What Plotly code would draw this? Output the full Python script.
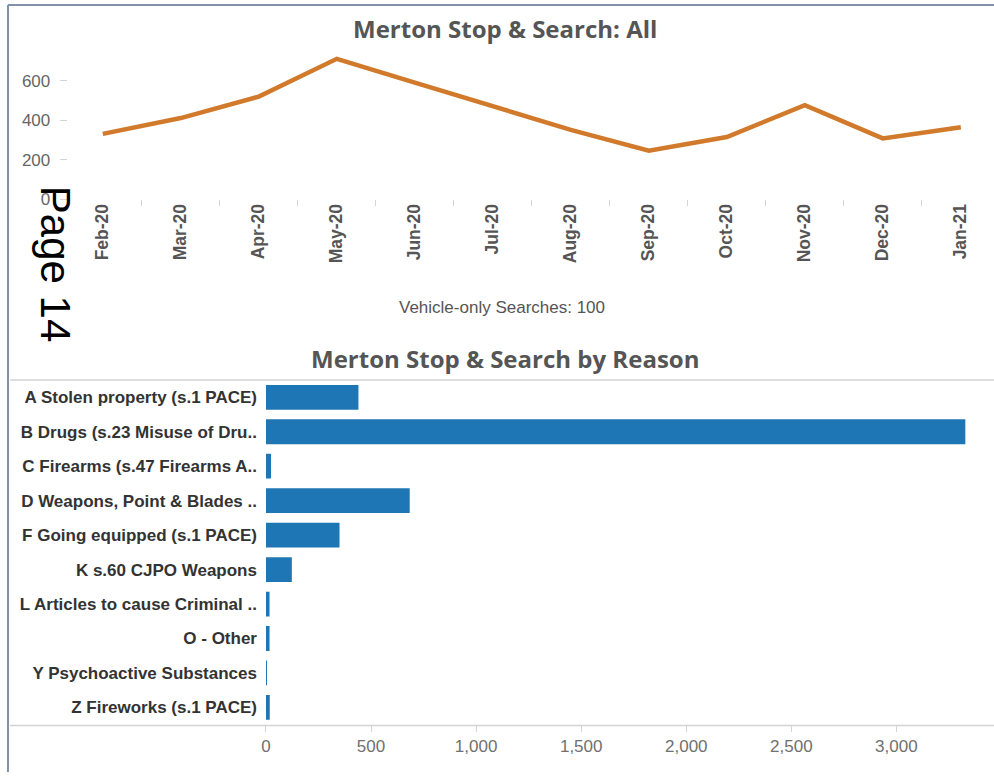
import plotly.graph_objects as go

# ---- data ----
months = ["Feb-20", "Mar-20", "Apr-20", "May-20", "Jun-20", "Jul-20",
          "Aug-20", "Sep-20", "Oct-20", "Nov-20", "Dec-20", "Jan-21"]
all_searches = [332, 412, 521, 712, 592, 470, 352, 247, 316, 477, 309, 366]

reasons = ["A Stolen property (s.1 PACE)", "B Drugs (s.23 Misuse of Dru..",
           "C Firearms (s.47 Firearms A..", "D Weapons, Point & Blades ..",
           "F Going equipped (s.1 PACE)", "K s.60 CJPO Weapons",
           "L Articles to cause Criminal ..", "O - Other",
           "Y Psychoactive Substances", "Z Fireworks (s.1 PACE)"]
reason_counts = [440, 3328, 24, 684, 350, 123, 17, 17, 4, 18]

y_ticks = [0, 200, 400, 600]
x_ticks = [0, 500, 1000, 1500, 2000, 2500, 3000]

W, H = 994, 782
def px(x): return x / W
def py(y): return 1 - y / H

ORANGE = "#d27a2b"
BLUE = "#1f76b4"
FONT = "Liberation Sans"

fig = go.Figure()
fig.add_trace(go.Scatter(x=months, y=all_searches, mode="lines",
                         line=dict(color=ORANGE, width=4.5),
                         xaxis="x", yaxis="y", hoverinfo="x+y"))
fig.add_trace(go.Bar(x=reason_counts, y=reasons, orientation="h",
                     marker=dict(color=BLUE, line=dict(width=0)),
                     xaxis="x2", yaxis="y2"))

fig.update_layout(
    width=W, height=H, margin=dict(l=0, r=0, t=0, b=0),
    paper_bgcolor="white", plot_bgcolor="white", showlegend=False,
    bargap=0.28,
    xaxis=dict(domain=[px(63), px(992)], type="category",
               range=[-0.45, 11.4], tickson="boundaries",
               ticks="outside", ticklen=6, tickcolor="#d5d5d5",
               tickangle=-90, showgrid=False, showline=False, zeroline=False,
               tickfont=dict(family=FONT, size=17.5, color="#555555", weight="bold"),
               anchor="y"),
    yaxis=dict(domain=[py(202), py(45)], range=[0, 785],
               tickvals=y_ticks, ticks="outside", ticklen=7,
               tickcolor="#d5d5d5", showgrid=False, zeroline=False,
               showline=False, ticklabelstandoff=6,
               tickfont=dict(family=FONT, size=17, color="#666666"),
               anchor="x"),
    xaxis2=dict(domain=[px(262.3), 1.0], range=[0, (994 - 262.3) / 105.6 * 500],
                tickvals=x_ticks, tickformat=",", ticks="outside", ticklen=6,
                tickcolor="#d5d5d5", showgrid=False, zeroline=False,
                showline=False,
                tickfont=dict(family=FONT, size=17, color="#707070"),
                anchor="y2"),
    yaxis2=dict(domain=[py(734), py(385)], autorange="reversed",
                showgrid=False, zeroline=False, showline=False, ticks="",
                ticklabelstandoff=8,
                tickfont=dict(family=FONT, size=17, color="#333333", weight="bold"),
                anchor="x2"),
)

title_font = dict(family="Open Sans", size=24, color="#555555", weight="bold")
fig.add_annotation(text="Merton Stop & Search: All", xref="paper", yref="paper",
                   x=px(503), y=py(29), showarrow=False, font=title_font,
                   xanchor="center", yanchor="middle")
fig.add_annotation(text="Merton Stop & Search by Reason", xref="paper", yref="paper",
                   x=px(503), y=py(363), showarrow=False, font=title_font,
                   xanchor="center", yanchor="middle")
fig.add_annotation(text="Vehicle-only Searches: 100", xref="paper", yref="paper",
                   x=px(500), y=py(311), showarrow=False,
                   font=dict(family=FONT, size=17, color="#555555"),
                   xanchor="center", yanchor="middle")
fig.add_annotation(text="Page 14", xref="paper", yref="paper",
                   x=px(51), y=py(267), showarrow=False, textangle=90,
                   font=dict(family=FONT, size=42, color="#000000"),
                   xanchor="center", yanchor="middle")

# frame and pane borders
line_frame = dict(color="#8091a8", width=2)
fig.add_shape(type="line", xref="paper", yref="paper",
              x0=px(3), x1=px(3), y0=0, y1=py(5), line=line_frame)
fig.add_shape(type="line", xref="paper", yref="paper",
              x0=px(3), x1=1, y0=py(5), y1=py(5), line=line_frame)
for yy in (385, 735):
    fig.add_shape(type="line", xref="paper", yref="paper",
                  x0=px(5), x1=1, y0=py(yy), y1=py(yy),
                  line=dict(color="#d3d3d3", width=1.5))

post = (
    "document.documentElement.style.margin='0';"
    "document.documentElement.style.overflow='hidden';"
    "document.body.style.margin='0';"
    "document.body.style.overflow='hidden';"
)

fig.write_html("out.html", config={"displayModeBar": False}, post_script=post)
